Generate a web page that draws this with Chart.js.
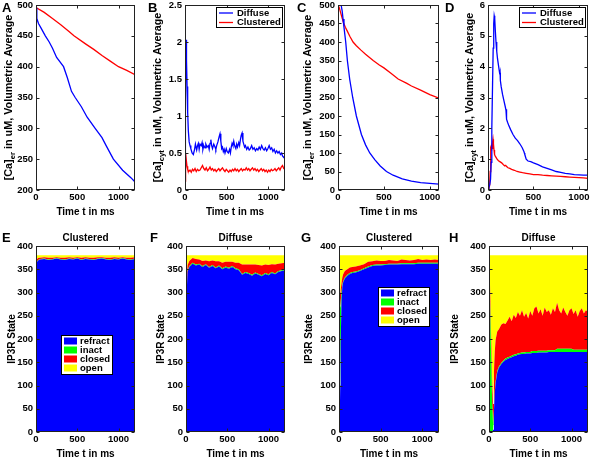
<!DOCTYPE html>
<html lang="en">
<head>
<meta charset="utf-8">
<title>IP3R calcium release: diffuse vs clustered</title>
<script src="https://cdn.jsdelivr.net/npm/chart.js@4.4.1/dist/chart.umd.min.js"></script>
<style>
  html, body { margin: 0; padding: 0; background: #fff; }
  #fig { position: relative; width: 590px; height: 459px; overflow: hidden; }
  #fig canvas { position: absolute; }
</style>
</head>
<body>
<div id="fig">
  <canvas id="panelA" width="147" height="225" style="left:0;top:0"></canvas>
  <canvas id="panelB" width="148" height="225" style="left:147px;top:0"></canvas>
  <canvas id="panelC" width="147" height="225" style="left:295px;top:0"></canvas>
  <canvas id="panelD" width="148" height="225" style="left:442px;top:0"></canvas>
  <canvas id="panelE" width="147" height="234" style="left:0;top:225px"></canvas>
  <canvas id="panelF" width="148" height="234" style="left:147px;top:225px"></canvas>
  <canvas id="panelG" width="147" height="234" style="left:295px;top:225px"></canvas>
  <canvas id="panelH" width="148" height="234" style="left:442px;top:225px"></canvas>
</div>
<script>
// ---------- marcas dos eixos ----------
const timeTicks = [0, 500, 1000];
const erTicksA = [200, 250, 300, 350, 400, 450, 500];
const cytTicksB = [0, 0.5, 1, 1.5, 2, 2.5];
const erTicksC = [0, 50, 100, 150, 200, 250, 300, 350, 400, 450, 500];
const cytTicksD = [0, 1, 2, 3, 4, 5, 6];
const stateTicks = [0, 50, 100, 150, 200, 250, 300, 350, 400];

// ---------- dados: [t (ms), valor] ----------

// A: [Ca]er (uM), simulação 1
const erDiffuseA = [[0,495],[10,478],[30,470],[60,463],[113,450],[160,440],[200,430],[250,415],[334,400],[380,382],
  [430,360],[475,350],[550,335],[620,318],[717,300],[800,285],[850,272],[938,250],[1050,232],[1150,220],[1200,213]];
const erClusteredA = [[0,496],[100,488],[200,478],[300,468],[400,457],[460,450],[600,437],[700,428],[800,418],
  [900,409],[1000,400],[1100,394],[1200,387]];

// B: [Ca]cyt (uM), simulação 1
const cytDiffuseB = [[0,0.32],[5,1.2],[12,2.03],[18,1.75],[25,1.4],[32,1.05],[40,0.8],[50,0.65],[60,0.6],[70,0.56],
  [85,0.5],[100,0.48],[115,0.55],[125,0.62],[140,0.54],[150,0.6],[160,0.63],[170,0.55],[180,0.62],[195,0.6],
  [205,0.64],[215,0.55],[225,0.6],[240,0.57],[250,0.62],[265,0.58],[280,0.6],[290,0.55],[300,0.63],[310,0.68],
  [320,0.6],[330,0.56],[345,0.62],[360,0.58],[370,0.55],[380,0.6],[395,0.65],[410,0.72],[420,0.76],[430,0.66],
  [440,0.56],[450,0.58],[460,0.52],[470,0.55],[480,0.5],[495,0.56],[505,0.52],[520,0.5],[535,0.55],[545,0.5],
  [555,0.58],[565,0.63],[575,0.6],[585,0.66],[595,0.6],[610,0.56],[620,0.62],[630,0.58],[645,0.64],[655,0.6],
  [665,0.68],[675,0.74],[685,0.77],[695,0.66],[705,0.62],[715,0.58],[725,0.6],[740,0.55],[755,0.58],[770,0.54],
  [785,0.56],[800,0.6],[815,0.55],[830,0.57],[845,0.53],[860,0.56],[875,0.54],[890,0.58],[905,0.55],[920,0.6],
  [935,0.56],[950,0.54],[965,0.57],[980,0.53],[995,0.56],[1010,0.6],[1025,0.55],[1040,0.57],[1055,0.52],[1070,0.55],
  [1085,0.5],[1100,0.53],[1115,0.5],[1130,0.52],[1145,0.48],[1160,0.5],[1170,0.46],[1185,0.44],[1200,0.46]];
const cytClusteredB = [[0,0.12],[4,0.42],[10,0.5],[16,0.4],[24,0.32],[32,0.28],[45,0.25],[60,0.27],[75,0.24],[90,0.28],
  [105,0.26],[120,0.29],[135,0.25],[150,0.28],[165,0.26],[180,0.27],[195,0.3],[210,0.33],[225,0.29],[240,0.27],
  [255,0.3],[270,0.26],[285,0.28],[300,0.31],[315,0.27],[330,0.29],[345,0.26],[360,0.28],[375,0.25],[390,0.27],
  [405,0.29],[420,0.26],[435,0.28],[450,0.3],[465,0.27],[480,0.25],[495,0.28],[510,0.26],[525,0.24],[540,0.27],
  [555,0.25],[570,0.28],[585,0.26],[600,0.29],[615,0.26],[630,0.28],[645,0.25],[660,0.27],[675,0.29],[690,0.26],
  [705,0.28],[720,0.27],[735,0.3],[750,0.27],[765,0.29],[780,0.26],[795,0.28],[810,0.3],[825,0.27],[840,0.29],
  [855,0.26],[870,0.28],[885,0.25],[900,0.27],[915,0.29],[930,0.26],[945,0.28],[960,0.25],[975,0.27],[990,0.24],
  [1005,0.27],[1020,0.25],[1035,0.28],[1050,0.26],[1065,0.27],[1080,0.29],[1095,0.26],[1110,0.28],[1125,0.3],[1140,0.27],
  [1155,0.31],[1170,0.33],[1185,0.29],[1200,0.28]];

// C: [Ca]er (uM), simulação 2
const erDiffuseC = [[0,500],[20,500],[35,498],[45,485],[55,462],[65,440],[84,400],[102,350],[127,300],[160,250],
  [200,200],[255,150],[300,122],[346,100],[400,82],[460,65],[528,50],[600,40],[700,30],[800,24],[900,20],[1000,18],[1100,16]];
const erClusteredC = [[0,500],[15,492],[30,478],[45,465],[60,452],[80,440],[100,430],[130,415],[164,400],[200,390],
  [250,378],[300,367],[383,350],[450,338],[500,330],[580,315],[655,300],[750,288],[800,281],[900,270],[950,264],
  [1000,258],[1100,248]];

// D: [Ca]cyt (uM), simulação 2
const cytDiffuseD = [[0,0.05],[10,0.1],[20,0.18],[28,0.35],[35,0.9],[42,2.0],[50,3.4],[57,4.6],[63,5.4],[68,5.65],
  [74,5.55],[80,5.2],[88,4.8],[96,4.5],[105,4.25],[115,4.05],[125,3.85],[130,3.75],[133,3.8],[136,3.55],
  [145,3.35],[160,3.1],[175,2.9],[190,2.7],[198,2.58],[202,2.62],[206,2.3],[215,2.2],[230,2.08],[250,1.95],
  [275,1.8],[300,1.68],[325,1.6],[350,1.5],[375,1.38],[395,1.25],[400,1.2],[405,1.15],[420,1.0],[440,0.94],
  [470,0.92],[500,0.88],[550,0.82],[600,0.75],[650,0.7],[700,0.65],[750,0.6],[800,0.57],[850,0.54],[900,0.52],
  [950,0.5],[1000,0.49],[1050,0.48],[1100,0.48]];
const cytClusteredD = [[0,0.02],[10,0.05],[18,0.15],[24,0.6],[28,1.3],[32,1.35],[36,1.3],[40,1.4],[45,1.35],[50,1.55],
  [55,1.65],[60,1.5],[66,1.3],[72,1.15],[80,1.1],[90,1.05],[100,1.0],[115,0.95],[130,0.92],[150,0.88],
  [170,0.82],[185,0.78],[195,0.8],[205,0.76],[220,0.72],[240,0.7],[260,0.67],[290,0.64],[320,0.6],[350,0.58],
  [380,0.56],[420,0.54],[460,0.52],[500,0.5],[550,0.5],[600,0.48],[650,0.47],[700,0.46],[750,0.45],[800,0.44],
  [850,0.43],[900,0.42],[950,0.41],[1000,0.4],[1050,0.39],[1100,0.38]];

// E-H: número de IP3R em cada estado
const stateLabels = ['refract', 'inact', 'closed', 'open'];
const stateColors = ['#0000ff', '#00ff00', '#ff0000', '#ffff00'];

const timeE = [0,10,25,50,100,150,200,250,300,350,400,450,500,550,600,650,700,750,800,850,900,950,1000,1050,1100,1150,1200];
const refractE = [351,365,369,371,372,370,371,373,371,370,372,371,373,370,372,371,370,372,373,371,370,372,371,373,371,370,372];
const inactE   = [0,1,1,1,1,1,1,1,1,1,1,1,1,1,1,1,1,1,1,1,1,1,1,1,1,1,1];
const closedE  = [10,5,4,3,3,4,3,2,3,4,3,3,2,4,3,3,4,3,2,3,4,3,3,2,3,4,3];
const openE    = [19,9,6,5,4,5,5,4,5,5,4,5,4,5,4,5,5,4,4,5,5,4,5,4,5,5,4];

const timeF = [0,5,10,20,40,80,120,160,200,240,280,320,360,400,440,480,520,560,600,640,680,720,760,800,840,880,920,960,1000,1040,1080,1120,1160,1200];
const refractF = [0,170,300,345,355,362,358,360,355,359,353,357,352,356,350,354,351,355,350,348,338,342,340,336,341,338,335,340,337,342,339,344,346,348];
const inactF   = [0,2,2,2,2,2,2,2,2,2,2,2,2,2,2,2,2,2,2,2,2,2,2,2,2,2,2,2,2,2,2,2,2,2];
const closedF  = [120,100,30,12,11,10,12,9,11,8,12,10,13,9,12,10,13,9,12,14,20,16,18,22,17,19,21,18,20,17,19,16,15,14];
const openF    = [260,108,48,21,12,6,8,9,12,11,13,11,13,13,16,14,14,14,16,16,20,20,20,20,20,21,22,20,21,19,20,18,17,16];

const timeG = [0,5,10,15,20,30,40,50,70,100,130,160,200,250,300,350,400,450,500,550,600,650,700,750,800,850,900,950,1000,1050,1100,1150,1200];
const refractG = [0,0,20,100,190,280,312,322,330,336,340,342,343,346,350,354,357,358,358,359,360,360,360,361,361,361,361,362,362,362,362,362,362];
const inactG   = [250,260,240,170,90,20,5,3,2,2,2,2,2,2,2,2,2,2,2,2,2,2,2,2,2,2,2,2,2,2,2,2,2];
const closedG  = [30,30,30,30,25,20,15,14,14,12,12,11,11,10,9,10,8,9,8,7,8,7,6,8,7,6,7,8,6,7,6,7,6];
const openG    = [100,90,90,80,75,60,48,41,34,30,26,25,24,22,19,14,13,11,12,12,10,11,12,9,10,11,10,8,10,9,10,9,10];

const timeH = [0,10,20,30,40,50,60,70,80,100,120,150,175,200,225,250,275,300,325,350,375,400,425,450,475,500,525,550,575,600,
  625,650,675,700,725,750,775,800,825,850,875,900,925,950,975,1000,1025,1050,1075,1100,1125,1150,1175,1200];
const refractH = [0,0,0,0,0,5,45,85,105,128,138,146,151,155,157,159,161,163,164,166,167,168,168,169,169,169,170,170,170,171,
  171,171,171,171,172,172,172,172,172,172,172,172,172,172,172,172,172,172,172,172,172,172,172,172];
const inactH   = [378,300,215,130,55,10,4,3,3,3,3,3,3,3,3,3,3,3,3,3,3,3,3,3,3,3,4,4,4,4,
  4,4,4,4,4,4,4,4,7,7,7,7,7,7,7,7,5,5,5,5,5,5,5,5];
const closedH  = [2,35,40,40,40,45,80,85,90,85,80,82,80,74,80,86,74,86,78,89,80,91,77,84,72,88,76,92,96,80,
  89,75,93,83,86,76,90,82,99,83,76,89,79,71,83,87,77,85,71,83,89,78,85,81];
const openH    = [0,45,125,210,285,320,251,207,182,164,159,149,146,148,140,132,142,128,135,122,130,118,132,124,136,120,130,114,110,125,
  116,130,112,122,118,128,114,122,102,118,125,112,122,130,118,114,126,118,132,120,114,125,118,122];

// ---------- aparência ----------
const FONT = '"Liberation Sans", Arial, Helvetica, sans-serif';
Chart.defaults.font.family = FONT;
Chart.defaults.font.weight = 'bold';
Chart.defaults.font.size = 9.5;
Chart.defaults.color = '#000';
Chart.defaults.animation = false;

// Rótulo do eixo y com subscrito ("[Ca]" + "er" + resto)
function drawYTitle(ctx, t, cy) {
  ctx.save();
  ctx.translate(t.x, cy);
  ctx.rotate(-Math.PI / 2);
  ctx.textBaseline = 'middle';
  ctx.textAlign = 'left';
  ctx.fillStyle = '#000';
  const main = `bold ${t.size}px ${FONT}`;
  const small = `bold ${t.size * 0.72}px ${FONT}`;
  ctx.font = main;
  const w1 = ctx.measureText(t.head).width;
  const w3 = ctx.measureText(t.tail || '').width;
  ctx.font = small;
  const w2 = t.sub ? ctx.measureText(t.sub).width : 0;
  let x = -(w1 + w2 + w3) / 2;
  ctx.font = main; ctx.fillText(t.head, x, 0); x += w1;
  if (t.sub) { ctx.font = small; ctx.fillText(t.sub, x, t.size * 0.38); x += w2; }
  if (t.tail) { ctx.font = main; ctx.fillText(t.tail, x, 0); }
  ctx.restore();
}

// Caixa, marcas internas, títulos, letra do painel e legenda
const panelDeco = {
  id: 'panelDeco',
  afterDraw(chart, args, o) {
    const { ctx, chartArea: a, scales } = chart;
    const L = Math.round(a.left) + 0.5, R = Math.round(a.right) - 0.5;
    const T = Math.round(a.top) + 0.5, B = Math.round(a.bottom) - 0.5;
    ctx.save();
    ctx.strokeStyle = '#222';
    ctx.lineWidth = 1;
    ctx.beginPath();
    scales.x.ticks.forEach(tk => {
      const px = Math.round(scales.x.getPixelForValue(tk.value)) + 0.5;
      ctx.moveTo(px, B); ctx.lineTo(px, B - 3);
      ctx.moveTo(px, T); ctx.lineTo(px, T + 3);
    });
    scales.y.ticks.forEach(tk => {
      const py = Math.round(scales.y.getPixelForValue(tk.value)) + 0.5;
      ctx.moveTo(L, py); ctx.lineTo(L + 3, py);
      ctx.moveTo(R, py); ctx.lineTo(R - 3, py);
    });
    ctx.stroke();
    ctx.strokeRect(L, T, R - L, B - T);

    // título do eixo x
    ctx.fillStyle = '#000';
    ctx.font = `bold 10px ${FONT}`;
    ctx.textAlign = 'center';
    ctx.textBaseline = 'middle';
    ctx.fillText('Time t in ms', (a.left + a.right) / 2, a.bottom + 22);

    // título do painel
    if (o.title) ctx.fillText(o.title, (a.left + a.right) / 2, o.titleY);

    // letra
    ctx.font = `bold 13px ${FONT}`;
    ctx.textAlign = 'left';
    ctx.textBaseline = 'top';
    ctx.fillText(o.letter, o.letterX, o.letterY);

    drawYTitle(ctx, o.yTitle, (a.top + a.bottom) / 2);

    const ds = chart.data.datasets;
    ctx.font = `bold 9.5px ${FONT}`;
    ctx.textBaseline = 'middle';
    if (o.legend === 'line') {
      const w = 66, h = 20;
      const x0 = Math.round(a.right) - 3 - w, y0 = Math.round(a.top) + 2;
      ctx.fillStyle = '#fff';
      ctx.fillRect(x0, y0, w, h);
      ctx.strokeStyle = '#000';
      ctx.strokeRect(x0 + 0.5, y0 + 0.5, w, h);
      ds.forEach((d, i) => {
        const y = y0 + 6 + i * 9.5;
        ctx.strokeStyle = d.borderColor;
        ctx.lineWidth = 1.3;
        ctx.beginPath(); ctx.moveTo(x0 + 3, y); ctx.lineTo(x0 + 17, y); ctx.stroke();
        ctx.fillStyle = '#000';
        ctx.fillText(d.label, x0 + 21, y);
      });
    } else if (o.legend === 'box') {
      const w = 51, h = 39;
      const x0 = Math.round(a.left) + o.legendDX, y0 = Math.round(a.top) + o.legendDY;
      ctx.fillStyle = '#fff';
      ctx.fillRect(x0, y0, w, h);
      ctx.strokeStyle = '#000';
      ctx.lineWidth = 1;
      ctx.strokeRect(x0 + 0.5, y0 + 0.5, w, h);
      ds.forEach((d, i) => {
        const y = y0 + 6 + i * 9;
        ctx.fillStyle = d.backgroundColor;
        ctx.fillRect(x0 + 3, y - 3.5, 13, 7);
        ctx.fillStyle = '#000';
        ctx.fillText(d.label, x0 + 19, y);
      });
    }
    ctx.restore();
  }
};

function pts(pairs) {
  return pairs.map(([x, y]) => ({ x, y }));
}

// Monta um painel; g = geometria (largura do eixo y, margens)
function makePanel(id, g, datasets, yTicks, xMax, deco, stacked) {
  new Chart(document.getElementById(id), {
    type: 'line',
    data: { datasets },
    options: {
      responsive: false,
      layout: { padding: { top: g.top, right: g.right, left: 0, bottom: 0 } },
      elements: { point: { radius: 0 }, line: { tension: 0 } },
      scales: {
        x: {
          type: 'linear', min: 0, max: xMax,
          grid: { display: false, drawTicks: false }, border: { display: false },
          ticks: { padding: 2, maxRotation: 0, autoSkip: false, callback: v => String(v) },
          afterBuildTicks: s => { s.ticks = timeTicks.map(v => ({ value: v })); },
          afterFit: s => { s.height = g.xh; s.paddingLeft = 0; s.paddingRight = 0; }
        },
        y: {
          type: 'linear', min: yTicks[0], max: yTicks[yTicks.length - 1], stacked: !!stacked,
          grid: { display: false, drawTicks: false }, border: { display: false },
          ticks: { padding: 3, autoSkip: false, callback: v => String(v) },
          afterBuildTicks: s => { s.ticks = yTicks.map(v => ({ value: v })); },
          afterFit: s => { s.width = g.yw; s.paddingTop = 0; s.paddingBottom = 0; }
        }
      },
      plugins: {
        legend: { display: false },
        tooltip: { enabled: false },
        panelDeco: deco
      }
    },
    plugins: [panelDeco]
  });
}

function lineSets(diffuse, clustered) {
  return [
    { label: 'Diffuse', data: pts(diffuse), borderColor: '#0000ff', borderWidth: 1.3, fill: false },
    { label: 'Clustered', data: pts(clustered), borderColor: '#ff0000', borderWidth: 1.3, fill: false }
  ];
}

function stateSets(time, series) {
  return series.map((vals, i) => ({
    label: stateLabels[i],
    data: time.map((t, k) => ({ x: t, y: vals[k] })),
    backgroundColor: stateColors[i],
    borderColor: stateColors[i],
    borderWidth: 0,
    fill: i === 0 ? 'origin' : '-1'
  }));
}

const erTitle = { head: '[Ca]', sub: 'er', tail: ' in uM, Volumetric Average', size: 10.8 };
const cytTitle = { head: '[Ca]', sub: 'cyt', tail: ' in uM, Volumetric Average', size: 10.8 };
const ipTitle = { head: 'IP3R State', size: 10 };

makePanel('panelA', { yw: 36, right: 12, top: 5, xh: 35 }, lineSets(erDiffuseA, erClusteredA),
  erTicksA, 1200,
  { letter: 'A', letterX: 2, letterY: 2, yTitle: { ...erTitle, x: 9 } });
makePanel('panelB', { yw: 38, right: 10, top: 5, xh: 35 }, lineSets(cytDiffuseB, cytClusteredB),
  cytTicksB, 1200,
  { letter: 'B', letterX: 1, letterY: 2, yTitle: { ...cytTitle, x: 11 }, legend: 'line' });
makePanel('panelC', { yw: 43, right: 3, top: 5, xh: 35 }, lineSets(erDiffuseC, erClusteredC),
  erTicksC, 1100,
  { letter: 'C', letterX: 2, letterY: 2, yTitle: { ...erTitle, x: 13 } });
makePanel('panelD', { yw: 46, right: 2, top: 5, xh: 35 }, lineSets(cytDiffuseD, cytClusteredD),
  cytTicksD, 1100,
  { letter: 'D', letterX: 3, letterY: 2, yTitle: { ...cytTitle, x: 28 }, legend: 'line' });

makePanel('panelE', { yw: 36, right: 12, top: 21, xh: 27 },
  stateSets(timeE, [refractE, inactE, closedE, openE]), stateTicks, 1200,
  { letter: 'E', letterX: 2, letterY: 7, title: 'Clustered', titleY: 13, yTitle: { ...ipTitle, x: 12 },
    legend: 'box', legendDX: 25, legendDY: 89 }, true);
makePanel('panelF', { yw: 39, right: 10, top: 21, xh: 27 },
  stateSets(timeF, [refractF, inactF, closedF, openF]), stateTicks, 1200,
  { letter: 'F', letterX: 3, letterY: 7, title: 'Diffuse', titleY: 13, yTitle: { ...ipTitle, x: 14 } }, true);
makePanel('panelG', { yw: 44, right: 3, top: 21, xh: 27 },
  stateSets(timeG, [refractG, inactG, closedG, openG]), stateTicks, 1200,
  { letter: 'G', letterX: 6, letterY: 7, title: 'Clustered', titleY: 13, yTitle: { ...ipTitle, x: 14 },
    legend: 'box', legendDX: 39, legendDY: 41 }, true);
makePanel('panelH', { yw: 47, right: 2, top: 21, xh: 27 },
  stateSets(timeH, [refractH, inactH, closedH, openH]), stateTicks, 1200,
  { letter: 'H', letterX: 7, letterY: 7, title: 'Diffuse', titleY: 13, yTitle: { ...ipTitle, x: 13 } }, true);
</script>
</body>
</html>
